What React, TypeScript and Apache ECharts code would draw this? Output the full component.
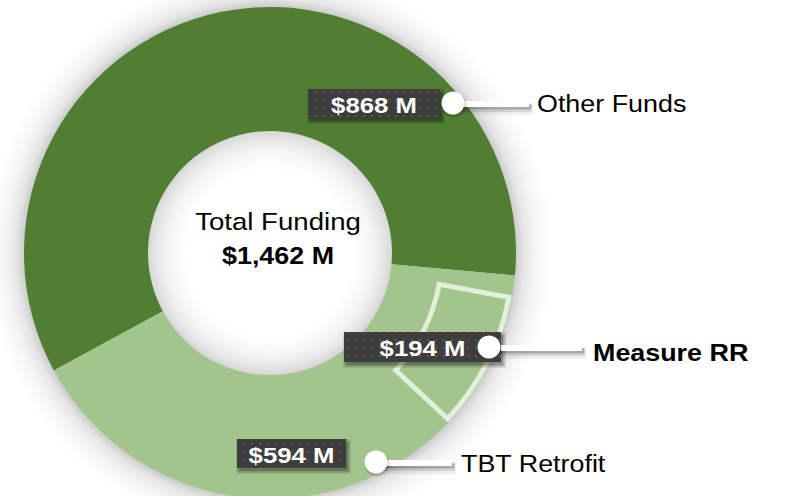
import React, { useEffect, useRef } from "react";
import * as echarts from "echarts";

// ---- data ----
const categories = ["Other Funds", "TBT Retrofit"];
const values = [868, 594];
const subsetName = "Measure RR";
const subsetValue = 194;
// hidden remainder of the outline ring (sets the outline's angular size)
const outlineRemainder = 1955;
const centerTitle = "Total Funding";

// ---- layout / style ----
const W = 787;
const H = 496;
const CENTER = [270, 253];
const R_IN = 122;
const R_OUT = 246;
const START_ANGLE = 208.5;
const OUTLINE_START = -10.5;
const COLORS = ["#507E32", "#A2C58E"];
const OUTLINE_COLOR = "#E2EFDA";
const FONT = "Arial, 'Liberation Sans', sans-serif";
const SX = 1.12;

type LabelPos = { box: number[]; dot: number[]; lineEnd: number; text: number[]; bold: boolean };
const labelLayout: Record<string, LabelPos> = {
  "Other Funds": { box: [308, 89, 132, 29], dot: [453, 103], lineEnd: 529, text: [537, 104], bold: false },
  "Measure RR": { box: [344, 332, 157, 30], dot: [489, 347], lineEnd: 582, text: [593, 353], bold: true },
  "TBT Retrofit": { box: [237, 439, 109, 29], dot: [376, 462], lineEnd: 452, text: [461, 464], bold: false },
};

const fmt = (v: number) => `$${v.toLocaleString("en-US")} M`;

function makeBoxPattern(): any {
  const c = document.createElement("canvas");
  c.width = 8;
  c.height = 8;
  const ctx = c.getContext("2d");
  if (!ctx) return "#404040";
  ctx.fillStyle = "#3d3d3d";
  ctx.fillRect(0, 0, 8, 8);
  ctx.fillStyle = "#575757";
  ctx.fillRect(3, 3, 2, 2);
  return { image: c.toDataURL(), repeat: "repeat", imageWidth: 8, imageHeight: 8 };
}

export default function App() {
  const ref = useRef<HTMLDivElement>(null);

  useEffect(() => {
    if (!ref.current) return;
    const chart = echarts.init(ref.current, undefined, { renderer: "svg", width: W, height: H });
    const total = values.reduce((a, b) => a + b, 0);
    const boxFill = makeBoxPattern();

    const labelItems: { name: string; value: number }[] = [
      { name: categories[0], value: values[0] },
      { name: subsetName, value: subsetValue },
      { name: categories[1], value: values[1] },
    ];

    const shadows: any[] = [];
    const lines: any[] = [];
    const boxes: any[] = [];
    const dots: any[] = [];
    const texts: any[] = [];
    labelItems.forEach((it) => {
      const p = labelLayout[it.name];
      const ly = p.dot[1] + 1;
      // soft shadow under connector line
      [
        { w: 12, a: 0.06, dy: 5, ext: 4 },
        { w: 8, a: 0.11, dy: 4, ext: 3 },
        { w: 5, a: 0.2, dy: 3, ext: 2 },
      ].forEach((s) =>
        shadows.push({
          type: "line",
          shape: { x1: p.dot[0], y1: ly + s.dy, x2: p.lineEnd + s.ext, y2: ly + s.dy },
          style: { stroke: `rgba(0,0,0,${s.a})`, lineWidth: s.w },
          z: 9,
        })
      );
      lines.push({
        type: "line",
        shape: { x1: p.dot[0], y1: ly, x2: p.lineEnd, y2: ly },
        style: { stroke: "#ffffff", lineWidth: 6 },
        z: 10,
      });
      // box shadow
      [
        { g: 3, a: 0.1 },
        { g: 1.5, a: 0.15 },
        { g: 0, a: 0.2 },
      ].forEach((s) =>
        shadows.push({
          type: "rect",
          shape: {
            x: p.box[0] + 2 - s.g,
            y: p.box[1] + 3 - s.g,
            width: p.box[2] + 2 * s.g,
            height: p.box[3] + 2 * s.g,
            r: s.g,
          },
          style: { fill: `rgba(0,0,0,${s.a})` },
          z: 9,
        })
      );
      boxes.push({
        type: "rect",
        shape: { x: p.box[0], y: p.box[1], width: p.box[2], height: p.box[3] },
        style: { fill: boxFill },
        z: 11,
      });
      texts.push({
        type: "text",
        x: p.box[0] + p.box[2] / 2,
        y: p.box[1] + p.box[3] / 2 + 1,
        scaleX: SX,
        style: {
          text: fmt(it.value),
          fill: "#ffffff",
          font: `bold 23px ${FONT}`,
          textAlign: "center",
          textVerticalAlign: "middle",
        },
        z: 13,
      });
      shadows.push({
        type: "circle",
        shape: { cx: p.dot[0] + 1, cy: p.dot[1] + 2, r: 12.5 },
        style: { fill: "rgba(0,0,0,0.15)" },
        z: 11,
      });
      dots.push({
        type: "circle",
        shape: { cx: p.dot[0], cy: p.dot[1], r: 11.5 },
        style: { fill: "#ffffff" },
        z: 12,
      });
      texts.push({
        type: "text",
        x: p.text[0],
        y: p.text[1],
        scaleX: SX,
        style: {
          text: it.name,
          fill: "#000000",
          font: `${p.bold ? "bold " : ""}24px ${FONT}`,
          textAlign: "left",
          textVerticalAlign: "middle",
        },
        z: 13,
      });
    });

    texts.push({
      type: "text",
      x: 278,
      y: 222,
      scaleX: 1.15,
      style: {
        text: centerTitle,
        fill: "#000000",
        font: `24px ${FONT}`,
        textAlign: "center",
        textVerticalAlign: "middle",
      },
      z: 13,
    });
    texts.push({
      type: "text",
      x: 278,
      y: 256,
      scaleX: SX,
      style: {
        text: fmt(total),
        fill: "#000000",
        font: `bold 24px ${FONT}`,
        textAlign: "center",
        textVerticalAlign: "middle",
      },
      z: 13,
    });

    const RS = R_OUT + 36;
    const off = (r: number) => r / RS;
    const ringShadow = {
      type: "radial",
      x: CENTER[0],
      y: CENTER[1],
      r: RS,
      global: true,
      colorStops: [
        { offset: 0, color: "rgba(0,0,0,0)" },
        { offset: off(R_IN - 38), color: "rgba(0,0,0,0)" },
        { offset: off(R_IN - 20), color: "rgba(0,0,0,0.04)" },
        { offset: off(R_IN - 8), color: "rgba(0,0,0,0.1)" },
        { offset: off(R_IN), color: "rgba(0,0,0,0.16)" },
        { offset: off(R_OUT), color: "rgba(0,0,0,0.2)" },
        { offset: off(R_OUT + 8), color: "rgba(0,0,0,0.1)" },
        { offset: off(R_OUT + 20), color: "rgba(0,0,0,0.04)" },
        { offset: 1, color: "rgba(0,0,0,0)" },
      ],
    };

    chart.setOption({
      animation: false,
      backgroundColor: "#ffffff",
      series: [
        {
          type: "pie",
          silent: true,
          z: 1,
          center: CENTER,
          radius: [R_IN - 38, RS],
          startAngle: START_ANGLE,
          label: { show: false },
          labelLine: { show: false },
          emphasis: { disabled: true },
          itemStyle: { color: ringShadow as any, borderWidth: 0 },
          data: [{ name: "shadow", value: total }],
        },
        {
          type: "pie",
          silent: true,
          z: 2,
          center: CENTER,
          radius: [R_IN, R_OUT],
          startAngle: START_ANGLE,
          clockwise: true,
          label: { show: false },
          labelLine: { show: false },
          emphasis: { disabled: true },
          itemStyle: { borderWidth: 0 },
          data: categories.map((c, i) => ({ name: c, value: values[i], itemStyle: { color: COLORS[i] } })),
        },
        {
          type: "pie",
          silent: true,
          z: 3,
          center: CENTER,
          radius: [172, 243],
          startAngle: OUTLINE_START,
          clockwise: true,
          label: { show: false },
          labelLine: { show: false },
          emphasis: { disabled: true },
          data: [
            {
              name: subsetName,
              value: subsetValue,
              itemStyle: { color: "rgba(0,0,0,0)", borderColor: OUTLINE_COLOR, borderWidth: 5, borderJoin: "miter" },
            },
            {
              name: "rest",
              value: outlineRemainder,
              itemStyle: { color: "rgba(0,0,0,0)", borderWidth: 0 },
            },
          ],
        },
      ],
      graphic: [...shadows, ...lines, ...boxes, ...dots, ...texts],
    });

    return () => chart.dispose();
  }, []);

  return (
    <div
      ref={ref}
      style={{ position: "fixed", left: 0, top: 0, width: W, height: H, background: "#fff" }}
    />
  );
}
